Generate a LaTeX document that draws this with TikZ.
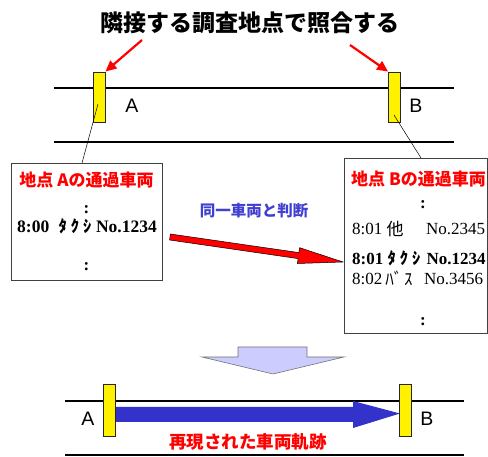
\documentclass[tikz,border=0pt]{standalone}
\usepackage{fontspec}
\usetikzlibrary{arrows.meta}
\setmainfont{Liberation Serif}
\newfontfamily\jp{Noto Sans CJK JP}
\newfontfamily\sansf{Liberation Sans}
\definecolor{myblue}{RGB}{51,51,204}
\definecolor{txtblue}{RGB}{64,64,208}
\definecolor{lav}{RGB}{204,204,255}
\begin{document}
\begin{tikzpicture}[x=1pt,y=-1pt,
  road/.style={line width=1.6pt},
  sensor/.style={draw=black!85, fill=yellow, line width=0.9pt, minimum width=12pt, minimum height=50pt, inner sep=0pt},
  lbl/.style={font=\sansf\fontsize{19.5}{19.5}\selectfont, inner sep=0pt},
  listbox/.style={draw=black!75, line width=0.8pt, fill=white, inner sep=0pt, anchor=north west},
  boxtitle/.style={font=\jp\bfseries\fontsize{17}{17}\selectfont, text=red, inner sep=0pt},
  row/.style={font=\fontsize{17}{17}\selectfont, inner sep=0pt, anchor=base west},
  browr/.style={font=\bfseries\fontsize{17}{17}\selectfont, inner sep=0pt, anchor=base west},
  kana/.style={font=\jp\fontsize{17}{17}\selectfont, inner sep=0pt, anchor=base},
  bkana/.style={font=\jp\bfseries\fontsize{16.5}{16.5}\selectfont, inner sep=0pt, anchor=base},
  dots/.style={font=\bfseries\fontsize{17}{17}\selectfont, inner sep=0pt},
  leader/.style={line width=0.5pt},
  redarrow/.style={red, line width=2.2pt, -{Triangle[length=11pt,width=10pt]}}
]
\useasboundingbox (0,0) rectangle (488,457);

% title
\node[font=\jp\bfseries\fontsize{23}{23}\selectfont, inner sep=0pt] (title) at (250,23) {隣接する調査地点で照合する};

% top roads
\coordinate (r1a) at (54,88);  \coordinate (r1b) at (454,88);
\coordinate (r2a) at (54,142); \coordinate (r2b) at (454,142);
\draw[road] (r1a) -- (r1b);
\draw[road] (r2a) -- (r2b);

% sensors top
\node[sensor] (senA) at (99,97) {};
\node[sensor] (senB) at (394.5,97) {};
\node[lbl] (labA) at (132,106) {A};
\node[lbl] (labB) at (416,106) {B};

% red arrows
\coordinate (ra) at (142,40);
\coordinate (rb) at (350,45);
\draw[redarrow] (ra) -- (senA.north east);
\draw[redarrow] (rb) -- (senB.north west);

% box A
\node[listbox, minimum width=151pt, minimum height=117pt] (boxA) at (11,163) {};
\coordinate (la0) at (98,104);
\coordinate (la1) at (82,163);
\draw[leader] (la0) -- (la1);
\node[boxtitle] (tA) at (86.5,180) {地点 Aの通過車両};
\node[dots] (dA1) at (86.5,210) {:};
\node[browr, font=\bfseries\fontsize{17.5}{17.5}\selectfont] (a1t) at (17,233) {8:00};
\node[bkana] (a1k) at (75,233) {ﾀ\hspace{4pt}ｸ\hspace{4pt}ｼ};
\node[browr, font=\bfseries\fontsize{17.5}{17.5}\selectfont, anchor=base east] (a1n) at (157,233) {No.1234};
\node[dots] (dA2) at (86.5,267) {:};

% box B
\node[listbox, minimum width=143pt, minimum height=175pt] (boxB) at (344,158) {};
\coordinate (lb0) at (394,115);
\coordinate (lb1) at (421,158);
\draw[leader] (lb0) -- (lb1);
\node[boxtitle] (tB) at (418.5,179) {地点 Bの通過車両};
\node[dots] (dB1) at (423,205) {:};
\node[row] (b1t) at (352,235) {8:01};
\node[kana] (b1k) at (395,236) {他};
\node[row] (b1n) at (426,235) {No.2345};
\node[browr] (b2t) at (352,265) {8:01};
\node[bkana] (b2k) at (404,265) {ﾀ\hspace{4pt}ｸ\hspace{4pt}ｼ};
\node[browr] (b2n) at (426.5,265) {No.1234};
\node[row] (b3t) at (352,285) {8:02};
\node[kana] (b3k) at (399,286) {ﾊﾞ\hspace{2pt}ｽ};
\node[row] (b3n) at (424,285) {No.3456};
\node[dots] (dB2) at (423,322) {:};

% big red arrow
\filldraw[fill=red, draw=black, line width=0.5pt]
  (170.4,234.0) -- (298.9,252.6) -- (299.6,247.7) -- (343,262) -- (297.4,263.5) -- (298.1,258.6) -- (169.6,240.0) -- cycle;
\node[font=\jp\bfseries\fontsize{15.5}{15.5}\selectfont, text=txtblue, inner sep=0pt] (same) at (254,211) {同一車両と判断};

% down arrow
\filldraw[fill=lav, draw=black!55, line width=0.6pt]
  (238,347) -- (307,347) -- (307,357) -- (344,357) -- (273,374) -- (202,357) -- (238,357) -- cycle;

% bottom roads
\coordinate (s1a) at (65,401);  \coordinate (s1b) at (464,401);
\coordinate (s2a) at (65,455); \coordinate (s2b) at (464,455);
\draw[road] (s1a) -- (s1b);
\draw[road] (s2a) -- (s2b);

% blue trajectory arrow
\fill[myblue] (116,407) -- (353,407) -- (353,401) -- (400,413.5) -- (353,428) -- (353,422) -- (116,422) -- cycle;

% sensors bottom
\node[sensor, minimum height=52pt] (senA2) at (109.5,410) {};
\node[sensor, minimum height=52pt] (senB2) at (405.5,410) {};
\node[lbl] (labA2) at (88,419) {A};
\node[lbl] (labB2) at (427,419) {B};

\node[font=\jp\bfseries\fontsize{17.5}{17.5}\selectfont, text=red, inner sep=0pt] (traj) at (248,442) {再現された車両軌跡};
\end{tikzpicture}
\end{document}
